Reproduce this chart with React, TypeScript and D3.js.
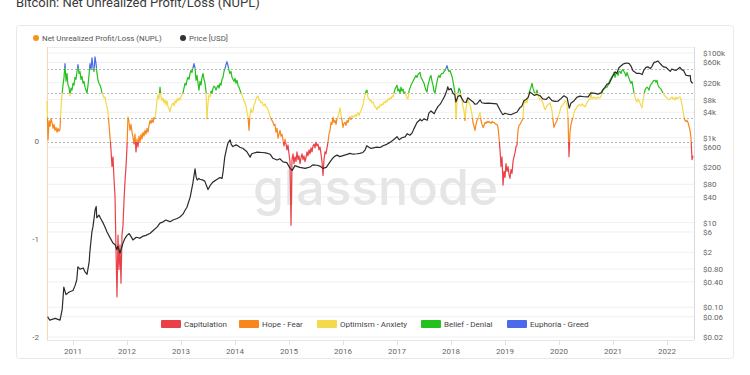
import React, { useEffect, useRef } from "react";
import * as d3 from "d3";

// NUPL, 54 samples per year starting mid 2010
const nuplStartYear = 2010.5185;
const nuplSamplesPerYear = 54;
const nuplValues = [
  0.42, 0.02, 0.22, 0.16, 0.24, 0.2, 0.14, 0.18, 0.12, 0.15,
  0.1, 0.14, 0.11, 0.13, 0.35, 0.48, 0.58, 0.66, 0.8, 0.62,
  0.7, 0.58, 0.56, 0.47, 0.55, 0.53, 0.6, 0.58, 0.66, 0.64,
  0.72, 0.79, 0.7, 0.72, 0.64, 0.67, 0.6, 0.62, 0.56, 0.53,
  0.5, 0.58, 0.68, 0.8, 0.74, 0.86, 0.76, 0.72, 0.87, 0.8,
  0.7, 0.63, 0.6, 0.58, 0.55, 0.5, 0.48, 0.45, 0.46, 0.4,
  0.36, 0.3, 0.18, 0.05, -0.08, -0.25, -0.15, -0.38, -0.55, -1.1,
  -1.58, -0.95, -1.3, -1.05, -1.44, -0.95, -0.85, -0.6, -0.4, -0.25,
  -0.05, 0.26, 0.2, 0.12, 0.18, 0.1, 0.05, -0.02, 0.08, -0.1,
  0.03, -0.05, 0.06, 0.0, 0.08, 0.03, 0.1, 0.06, 0.12, 0.08,
  0.14, 0.1, 0.17, 0.22, 0.19, 0.23, 0.2, 0.25, 0.24, 0.32,
  0.43, 0.48, 0.44, 0.56, 0.46, 0.42, 0.45, 0.4, 0.43, 0.38,
  0.42, 0.36, 0.34, 0.31, 0.36, 0.38, 0.4, 0.37, 0.42, 0.4,
  0.44, 0.42, 0.45, 0.43, 0.46, 0.48, 0.5, 0.55, 0.6, 0.58,
  0.63, 0.66, 0.64, 0.7, 0.73, 0.71, 0.76, 0.8, 0.76, 0.63,
  0.68, 0.6, 0.53, 0.62, 0.58, 0.66, 0.7, 0.64, 0.6, 0.52,
  0.24, 0.4, 0.48, 0.46, 0.52, 0.5, 0.55, 0.57, 0.56, 0.53,
  0.56, 0.58, 0.55, 0.6, 0.58, 0.64, 0.66, 0.72, 0.75, 0.79,
  0.82, 0.78, 0.73, 0.7, 0.72, 0.66, 0.64, 0.62, 0.65, 0.6,
  0.63, 0.58, 0.56, 0.53, 0.5, 0.48, 0.45, 0.42, 0.4, 0.37,
  0.3, 0.26, 0.12, 0.28, 0.34, 0.3, 0.32, 0.38, 0.4, 0.44,
  0.46, 0.47, 0.43, 0.42, 0.4, 0.41, 0.38, 0.37, 0.39, 0.36,
  0.35, 0.33, 0.3, 0.26, 0.24, 0.22, 0.2, 0.17, 0.18, 0.1,
  0.14, 0.04, 0.08, 0.12, 0.06, 0.08, 0.02, -0.04, 0.03, -0.02,
  -0.08, -0.03, -0.12, -0.2, -0.85, -0.18, -0.12, -0.22, -0.15, -0.2,
  -0.1, -0.18, -0.14, -0.22, -0.16, -0.12, -0.18, -0.14, -0.2, -0.16,
  -0.1, -0.14, -0.08, -0.12, -0.06, -0.1, -0.04, -0.02, -0.06, 0.0,
  -0.04, -0.02, -0.08, -0.05, -0.12, -0.2, -0.34, -0.18, -0.1, -0.12,
  -0.06, 0.0, 0.08, 0.12, 0.2, 0.18, 0.26, 0.2, 0.22, 0.18,
  0.24, 0.26, 0.3, 0.35, 0.28, 0.22, 0.15, 0.19, 0.2, 0.17,
  0.22, 0.2, 0.24, 0.26, 0.23, 0.27, 0.25, 0.26, 0.28, 0.26,
  0.28, 0.3, 0.27, 0.3, 0.32, 0.35, 0.38, 0.44, 0.48, 0.52,
  0.53, 0.45, 0.44, 0.42, 0.43, 0.4, 0.41, 0.38, 0.36, 0.35,
  0.33, 0.36, 0.35, 0.38, 0.37, 0.39, 0.38, 0.41, 0.4, 0.42,
  0.41, 0.44, 0.43, 0.45, 0.44, 0.47, 0.46, 0.5, 0.54, 0.56,
  0.58, 0.52, 0.54, 0.5, 0.56, 0.52, 0.54, 0.5, 0.51, 0.48,
  0.45, 0.44, 0.52, 0.55, 0.58, 0.6, 0.62, 0.64, 0.66, 0.68,
  0.66, 0.69, 0.7, 0.71, 0.66, 0.64, 0.62, 0.6, 0.56, 0.53,
  0.51, 0.58, 0.62, 0.66, 0.68, 0.62, 0.58, 0.52, 0.5, 0.56,
  0.62, 0.66, 0.68, 0.66, 0.69, 0.7, 0.7, 0.72, 0.73, 0.75,
  0.78, 0.74, 0.72, 0.73, 0.7, 0.67, 0.62, 0.56, 0.5, 0.24,
  0.42, 0.5, 0.55, 0.53, 0.48, 0.42, 0.36, 0.32, 0.22, 0.34,
  0.4, 0.43, 0.4, 0.38, 0.34, 0.28, 0.2, 0.16, 0.12, 0.18,
  0.22, 0.24, 0.27, 0.3, 0.22, 0.18, 0.15, 0.17, 0.2, 0.19,
  0.21, 0.2, 0.21, 0.2, 0.19, 0.21, 0.2, 0.2, 0.19, 0.18,
  0.18, 0.15, 0.05, -0.08, -0.25, -0.15, -0.44, -0.3, -0.36, -0.22,
  -0.3, -0.25, -0.33, -0.37, -0.28, -0.32, -0.2, -0.15, -0.11, -0.05,
  -0.03, 0.12, 0.17, 0.18, 0.2, 0.22, 0.24, 0.43, 0.4, 0.42,
  0.4, 0.46, 0.5, 0.53, 0.56, 0.6, 0.55, 0.52, 0.48, 0.5,
  0.53, 0.49, 0.45, 0.43, 0.44, 0.42, 0.4, 0.36, 0.33, 0.35,
  0.37, 0.38, 0.39, 0.4, 0.36, 0.32, 0.22, 0.15, 0.18, 0.2,
  0.22, 0.25, 0.28, 0.32, 0.36, 0.37, 0.38, 0.4, 0.42, 0.41,
  0.38, 0.25, -0.15, 0.1, 0.18, 0.22, 0.25, 0.3, 0.33, 0.34,
  0.36, 0.37, 0.38, 0.38, 0.37, 0.39, 0.38, 0.37, 0.36, 0.38,
  0.4, 0.42, 0.43, 0.44, 0.5, 0.44, 0.45, 0.46, 0.45, 0.44,
  0.45, 0.46, 0.45, 0.45, 0.47, 0.5, 0.53, 0.54, 0.55, 0.56,
  0.56, 0.58, 0.61, 0.63, 0.65, 0.67, 0.68, 0.71, 0.66, 0.7,
  0.71, 0.68, 0.72, 0.72, 0.7, 0.73, 0.74, 0.72, 0.7, 0.67,
  0.71, 0.68, 0.65, 0.62, 0.6, 0.62, 0.56, 0.5, 0.46, 0.42,
  0.41, 0.44, 0.42, 0.4, 0.37, 0.35, 0.42, 0.48, 0.53, 0.55,
  0.56, 0.55, 0.53, 0.57, 0.59, 0.6, 0.62, 0.63, 0.63, 0.61,
  0.63, 0.58, 0.56, 0.55, 0.54, 0.52, 0.5, 0.48, 0.47, 0.46,
  0.45, 0.44, 0.43, 0.44, 0.45, 0.46, 0.44, 0.45, 0.43, 0.46,
  0.44, 0.45, 0.46, 0.46, 0.43, 0.38, 0.32, 0.26, 0.22, 0.21,
  0.22, 0.2, 0.16, 0.12, 0.04, -0.18, -0.14,
];

// BTC price in USD, [decimal year, price]
const priceData: [number, number][] = [
  [2010.53, 0.06], [2010.57, 0.05], [2010.67, 0.055], [2010.76, 0.05], [2010.8, 0.09],
  [2010.83, 0.3], [2010.87, 0.2], [2010.93, 0.23], [2011.0, 0.25], [2011.04, 0.33],
  [2011.07, 0.45], [2011.09, 0.9], [2011.13, 0.8], [2011.19, 0.85], [2011.22, 0.7],
  [2011.26, 0.6], [2011.3, 1.2], [2011.31, 1.9], [2011.35, 6], [2011.37, 8],
  [2011.41, 20], [2011.43, 24], [2011.44, 13], [2011.48, 15], [2011.52, 12],
  [2011.56, 9.7], [2011.59, 8], [2011.63, 6], [2011.69, 4.3], [2011.74, 3.3],
  [2011.78, 3.0], [2011.81, 2.3], [2011.83, 2.8], [2011.87, 1.9], [2011.91, 2.8],
  [2011.93, 3.4], [2011.96, 4.2], [2012.0, 5.0], [2012.04, 5.5], [2012.07, 4.8],
  [2012.11, 3.9], [2012.17, 4.5], [2012.24, 4.3], [2012.3, 4.8], [2012.35, 5.0],
  [2012.43, 5.6], [2012.48, 6.4], [2012.56, 7.9], [2012.61, 9.7], [2012.67, 10.4],
  [2012.72, 11.5], [2012.76, 11.0], [2012.8, 10.5], [2012.85, 11.5], [2012.93, 12.5],
  [2012.98, 13.5], [2013.04, 16], [2013.07, 19], [2013.11, 23], [2013.17, 40],
  [2013.22, 85], [2013.26, 185], [2013.28, 120], [2013.3, 100], [2013.33, 110],
  [2013.35, 105], [2013.41, 100], [2013.44, 95], [2013.48, 70], [2013.5, 60],
  [2013.54, 75], [2013.59, 90], [2013.67, 105], [2013.72, 115], [2013.76, 110],
  [2013.78, 160], [2013.81, 350], [2013.85, 600], [2013.87, 750], [2013.91, 890],
  [2013.93, 700], [2013.96, 620], [2014.02, 680], [2014.06, 640], [2014.09, 600],
  [2014.15, 560], [2014.22, 470], [2014.28, 350], [2014.31, 420], [2014.41, 460],
  [2014.5, 450], [2014.57, 440], [2014.65, 410], [2014.7, 330], [2014.78, 300],
  [2014.83, 320], [2014.89, 270], [2014.96, 260], [2015.02, 190], [2015.06, 170],
  [2015.11, 220], [2015.2, 200], [2015.3, 190], [2015.39, 205], [2015.44, 230],
  [2015.52, 225], [2015.57, 215], [2015.63, 190], [2015.69, 200], [2015.76, 270],
  [2015.81, 330], [2015.85, 370], [2015.89, 390], [2015.94, 360], [2016.0, 380],
  [2016.06, 400], [2016.13, 430], [2016.19, 410], [2016.26, 420], [2016.31, 430],
  [2016.37, 450], [2016.41, 520], [2016.44, 650], [2016.48, 600], [2016.52, 560],
  [2016.56, 580], [2016.63, 600], [2016.69, 590], [2016.74, 650], [2016.81, 700],
  [2016.87, 780], [2016.93, 890], [2016.98, 1000], [2017.0, 1060], [2017.04, 900],
  [2017.09, 1000], [2017.15, 1050], [2017.19, 1250], [2017.24, 1150], [2017.28, 1300],
  [2017.31, 1600], [2017.37, 2300], [2017.43, 2700], [2017.46, 2500], [2017.5, 2800],
  [2017.56, 2600], [2017.59, 3800], [2017.63, 4300], [2017.69, 3700], [2017.72, 4500],
  [2017.76, 5500], [2017.8, 6200], [2017.85, 8000], [2017.89, 10000], [2017.93, 14000],
  [2017.94, 16000], [2017.96, 13500], [2018.0, 14500], [2018.04, 11000], [2018.07, 10500],
  [2018.09, 7000], [2018.13, 9500], [2018.17, 10000], [2018.2, 8500], [2018.24, 7000],
  [2018.28, 6800], [2018.31, 8800], [2018.35, 8000], [2018.41, 7000], [2018.44, 6200],
  [2018.48, 6300], [2018.54, 7800], [2018.57, 6700], [2018.63, 6500], [2018.69, 6600],
  [2018.74, 6500], [2018.8, 6400], [2018.85, 6300], [2018.89, 5000], [2018.93, 4000],
  [2018.96, 3500], [2019.0, 3800], [2019.06, 3600], [2019.11, 3500], [2019.17, 3800],
  [2019.22, 4000], [2019.28, 5200], [2019.31, 5500], [2019.35, 7500], [2019.39, 8000],
  [2019.43, 9000], [2019.46, 12000], [2019.5, 11000], [2019.54, 10000], [2019.59, 10500],
  [2019.65, 9800], [2019.7, 8300], [2019.76, 8000], [2019.81, 9200], [2019.87, 7500],
  [2019.93, 7200], [2019.98, 7300], [2020.04, 8500], [2020.09, 9800], [2020.15, 8800],
  [2020.19, 5000], [2020.22, 6500], [2020.28, 7500], [2020.33, 9000], [2020.39, 9600],
  [2020.46, 9300], [2020.54, 9200], [2020.59, 11500], [2020.67, 11200], [2020.72, 10700],
  [2020.78, 11500], [2020.81, 13500], [2020.85, 15500], [2020.89, 18500], [2020.93, 19000],
  [2020.96, 23000], [2021.0, 29000], [2021.04, 36000], [2021.07, 33000], [2021.11, 45000],
  [2021.15, 50000], [2021.19, 55000], [2021.22, 57000], [2021.26, 58000], [2021.3, 56000],
  [2021.33, 50000], [2021.37, 38000], [2021.41, 35000], [2021.44, 33000], [2021.5, 33000],
  [2021.54, 31000], [2021.57, 39000], [2021.61, 46000], [2021.65, 47000], [2021.69, 43000],
  [2021.72, 48000], [2021.76, 60000], [2021.8, 62000], [2021.83, 65000], [2021.87, 57000],
  [2021.91, 50000], [2021.94, 47000], [2021.98, 46000], [2022.02, 41000], [2022.06, 37000],
  [2022.09, 42000], [2022.13, 40000], [2022.17, 39000], [2022.2, 42000], [2022.24, 46000],
  [2022.28, 40000], [2022.31, 38000], [2022.35, 30000], [2022.39, 29000], [2022.43, 29500],
  [2022.44, 22000], [2022.46, 20000], [2022.48, 19500],
];

const priceTicks = [100000, 60000, 20000, 8000, 4000, 1000, 600, 200, 80, 40, 10, 6, 2, 0.8, 0.4, 0.1, 0.06, 0.02];
const nuplTicks = [0, -1, -2];
const bandLevels = [0, 0.25, 0.5, 0.75];
const yearTicks = [2011, 2012, 2013, 2014, 2015, 2016, 2017, 2018, 2019, 2020, 2021, 2022];
const zoneNames = ["Capitulation", "Hope - Fear", "Optimism - Anxiety", "Belief - Denial", "Euphoria - Greed"];
const zoneColors = ["#ea4147", "#f7861c", "#f4d94a", "#24c11c", "#4a69ec"];

const FONT = "Roboto, 'Open Sans', sans-serif";

function zoneOf(v: number) {
  if (v < 0) return 0;
  if (v < 0.25) return 1;
  if (v < 0.5) return 2;
  if (v < 0.75) return 3;
  return 4;
}

// cut the series where it crosses a band level so each run has one colour
function colourRuns(pts: [number, number][]) {
  const runs: { zone: number; pts: [number, number][] }[] = [];
  let cur: { zone: number; pts: [number, number][] } | null = null;
  const add = (a: [number, number], b: [number, number]) => {
    const z = zoneOf((a[1] + b[1]) / 2);
    if (!cur || cur.zone !== z) {
      cur = { zone: z, pts: [a] };
      runs.push(cur);
    }
    cur.pts.push(b);
  };
  for (let i = 0; i < pts.length - 1; i++) {
    const [x0, v0] = pts[i];
    const [x1, v1] = pts[i + 1];
    const cuts = bandLevels
      .filter((t) => (t - v0) * (t - v1) < 0)
      .map((t) => ({ t, f: (t - v0) / (v1 - v0) }))
      .sort((a, b) => a.f - b.f);
    let prev: [number, number] = [x0, v0];
    cuts.forEach((c) => {
      const p: [number, number] = [x0 + c.f * (x1 - x0), c.t];
      add(prev, p);
      prev = p;
    });
    add(prev, [x1, v1]);
  }
  return runs;
}

function fmtPrice(p: number) {
  if (p >= 1000) return "$" + p / 1000 + "k";
  if (p >= 1) return "$" + p;
  return "$" + p.toFixed(2);
}

export default function App() {
  const ref = useRef<SVGSVGElement>(null);

  useEffect(() => {
    const left = 47, right = 694, top = 47, bottom = 340;
    const svg = d3.select(ref.current);
    svg.selectAll("*").remove();

    const x = d3.scaleLinear().domain([nuplStartYear, 2022.5]).range([left, right]);
    const yN = d3.scaleLinear().domain([-2.02, 0.97]).range([bottom, top]);
    const yP = d3.scaleLog().domain([0.017, 138500]).range([bottom, top]);

    svg.append("text")
      .attr("x", 16).attr("y", 7)
      .attr("font-family", FONT).attr("font-size", 13).attr("fill", "#3a3a3a")
      .text("Bitcoin: Net Unrealized Profit/Loss (NUPL)");

    svg.append("rect")
      .attr("x", 16.5).attr("y", 25.5).attr("width", 717).attr("height", 333)
      .attr("rx", 3).attr("fill", "#fff").attr("stroke", "#e9e9e9");

    // top legend
    const topLegend = [
      { label: "Net Unrealized Profit/Loss (NUPL)", color: "#f7931a", x: 36 },
      { label: "Price [USD]", color: "#333", x: 183 },
    ];
    const tl = svg.selectAll(".tl").data(topLegend).join("g").attr("class", "tl");
    tl.append("circle").attr("cx", (d) => d.x).attr("cy", 38).attr("r", 3).attr("fill", (d) => d.color);
    tl.append("text")
      .attr("x", (d) => d.x + 6).attr("y", 41)
      .attr("font-family", FONT).attr("font-size", 7.9).attr("fill", "#555")
      .text((d) => d.label);

    // price grid
    svg.selectAll(".grid").data(priceTicks).join("line").attr("class", "grid")
      .attr("x1", left).attr("x2", right)
      .attr("y1", (d) => yP(d)).attr("y2", (d) => yP(d))
      .attr("stroke", "#f0f0f0");

    svg.append("line").attr("x1", left).attr("x2", right).attr("y1", top + 0.5).attr("y2", top + 0.5).attr("stroke", "#eeeeee");
    svg.append("line").attr("x1", left).attr("x2", right).attr("y1", bottom + 0.5).attr("y2", bottom + 0.5).attr("stroke", "#e6e6e6");

    // watermark
    svg.append("text")
      .attr("x", 253).attr("y", 205)
      .attr("font-family", "Inter, sans-serif").attr("font-size", 50).attr("font-weight", 500)
      .attr("fill", "#e5e5e5").attr("textLength", 245)
      .text("glassnode");

    svg.selectAll(".band").data(bandLevels).join("line").attr("class", "band")
      .attr("x1", left).attr("x2", right)
      .attr("y1", (d) => Math.round(yN(d)) + 0.5).attr("y2", (d) => Math.round(yN(d)) + 0.5)
      .attr("stroke", "#b5b5b5").attr("stroke-dasharray", "2,2");

    svg.append("line").attr("x1", left + 0.5).attr("x2", left + 0.5).attr("y1", top).attr("y2", bottom).attr("stroke", "#fcd6b0");
    svg.append("line").attr("x1", right + 0.5).attr("x2", right + 0.5).attr("y1", top).attr("y2", bottom).attr("stroke", "#d9d9d9");

    // NUPL, coloured by zone
    const nuplPts: [number, number][] = nuplValues.map((v, i) => [nuplStartYear + i / nuplSamplesPerYear, v]);
    const line = d3.line<[number, number]>().x((d) => x(d[0])).y((d) => yN(d[1]));
    svg.selectAll(".nupl").data(colourRuns(nuplPts)).join("path").attr("class", "nupl")
      .attr("d", (d) => line(d.pts))
      .attr("fill", "none").attr("stroke", (d) => zoneColors[d.zone])
      .attr("stroke-width", 1.2).attr("stroke-linejoin", "round");

    // price
    const priceLine = d3.line<[number, number]>().x((d) => x(d[0])).y((d) => yP(d[1]));
    svg.append("path").attr("d", priceLine(priceData))
      .attr("fill", "none").attr("stroke", "#2b2b2b").attr("stroke-width", 1.2).attr("stroke-linejoin", "round");

    // axes labels
    svg.selectAll(".ln").data(nuplTicks).join("text").attr("class", "ln")
      .attr("x", 39).attr("y", (d) => yN(d) + 2)
      .attr("text-anchor", "end").attr("font-family", FONT).attr("font-size", 8).attr("fill", "#666")
      .text((d) => String(d));

    svg.selectAll(".rp").data(priceTicks).join("text").attr("class", "rp")
      .attr("x", 703).attr("y", (d) => yP(d) + 3)
      .attr("font-family", FONT).attr("font-size", 8).attr("fill", "#666")
      .text((d) => fmtPrice(d));

    svg.selectAll(".xt").data(yearTicks).join("line").attr("class", "xt")
      .attr("x1", (d) => Math.round(x(d)) + 0.5).attr("x2", (d) => Math.round(x(d)) + 0.5)
      .attr("y1", bottom).attr("y2", bottom + 5).attr("stroke", "#e0e0e0");
    svg.selectAll(".xl").data(yearTicks).join("text").attr("class", "xl")
      .attr("x", (d) => x(d)).attr("y", 354)
      .attr("text-anchor", "middle").attr("font-family", FONT).attr("font-size", 8).attr("fill", "#666")
      .text((d) => String(d));

    // zone legend
    const legX = [161, 239, 317, 421, 507];
    const lg = svg.selectAll(".lg").data(zoneNames).join("g").attr("class", "lg");
    lg.append("rect")
      .attr("x", (d, i) => legX[i]).attr("y", 320).attr("width", 20).attr("height", 8).attr("rx", 1)
      .attr("fill", (d, i) => zoneColors[i]);
    lg.append("text")
      .attr("x", (d, i) => legX[i] + 23).attr("y", 327)
      .attr("font-family", FONT).attr("font-size", 8).attr("fill", "#444")
      .text((d) => d);
  }, []);

  return <svg ref={ref} width={750} height={375} style={{ position: "absolute", left: 0, top: 0 }} />;
}
